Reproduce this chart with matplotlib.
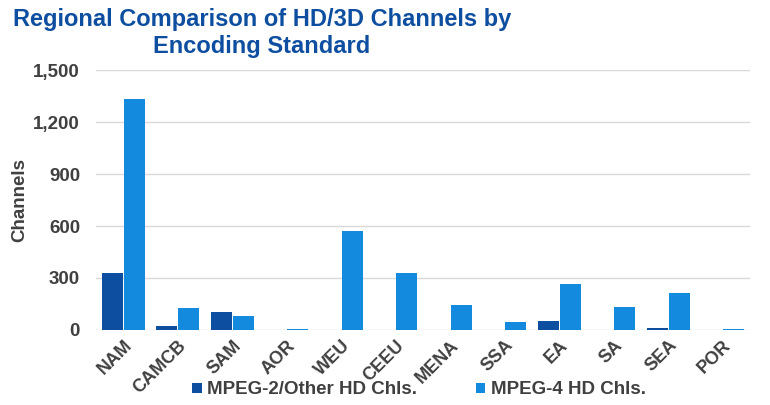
import matplotlib
matplotlib.use("Agg")
import matplotlib.pyplot as plt
import numpy as np
from matplotlib.ticker import FuncFormatter

plt.rcParams['font.family'] = ['Liberation Sans', 'DejaVu Sans']

categories = ["NAM", "CAMCB", "SAM", "AOR", "WEU", "CEEU", "MENA", "SSA", "EA", "SA", "SEA", "POR"]
mpeg2 = [330, 23, 104, 1, 1, 0, 0, 0, 52, 0, 12, 0]
mpeg4 = [1335, 127, 81, 6, 571, 329, 146, 46, 265, 133, 213, 5]
series_names = ["MPEG-2/Other HD Chls.", "MPEG-4 HD Chls."]
yticks = [0, 300, 600, 900, 1200, 1500]

c_dark = "#0D4EA0"
c_light = "#138ADD"
txt = "#404040"

fig = plt.figure(figsize=(7.7, 4.05), dpi=100)
ax = fig.add_axes([96/770, 75/405, 654/770, 260/405])

x = np.arange(len(categories))
w = 0.385
ax.bar(x - w/2 - 0.005, mpeg2, width=w, color=c_dark, label=series_names[0], zorder=3)
ax.bar(x + w/2 + 0.005, mpeg4, width=w, color=c_light, label=series_names[1], zorder=3)

ax.set_xlim(-0.5, len(categories) - 0.5)
ax.set_ylim(0, 1500)
ax.set_yticks(yticks)
ax.yaxis.set_major_formatter(FuncFormatter(lambda v, p: f"{int(v):,}"))
ax.grid(axis='y', color="#D9D9D9", linewidth=1, zorder=0)
for s in ax.spines.values():
    s.set_visible(False)
ax.tick_params(axis='both', length=0)
ax.tick_params(axis='y', labelsize=13.5, labelcolor=txt, pad=11.5)
ax.set_xticks(x)
ax.set_xticklabels(categories, rotation=45, ha='right', rotation_mode='anchor',
                   fontsize=13, color=txt, fontweight='bold')
ax.tick_params(axis='x', pad=5)
for lab in ax.get_yticklabels():
    lab.set_fontweight('bold')
ax.set_ylabel("Channels", fontsize=13.5, fontweight='bold', color=txt, labelpad=3.5)

fig.text(262/770, 1 - 33/405, "Regional Comparison of HD/3D Channels by\nEncoding Standard",
         ha='center', va='center', fontsize=17, fontweight='bold', color="#0D4EA0",
         linespacing=1.2)

leg = fig.legend(loc='center', bbox_to_anchor=(419/770, 1 - 390/405), ncol=2, frameon=False,
                 handlelength=0.5, handleheight=0.5, handletextpad=0.3, columnspacing=3.1,
                 prop={'size': 13.5, 'weight': 'bold'})
for t in leg.get_texts():
    t.set_color(txt)

fig.savefig("out.png", dpi=100)
